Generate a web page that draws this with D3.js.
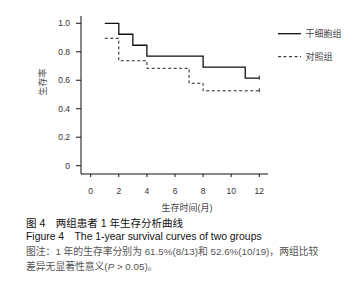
<!DOCTYPE html>
<html>
<head>
<meta charset="utf-8">
<script src="https://cdn.jsdelivr.net/npm/d3@7"></script>
<style>
  body { margin: 0; background: #fff; }
  text { font-family: "Liberation Sans", Arial, "Noto Sans CJK SC", sans-serif; }
</style>
</head>
<body>
<svg id="chart" width="360" height="296"></svg>
<script>
// survival data
const stemTimes = [1, 2, 3, 4, 8, 11, 12]
const stemSurv = [1.0, 0.923, 0.846, 0.769, 0.692, 0.615, 0.615]
const ctrlTimes = [1, 2, 4, 7, 8, 12]
const ctrlSurv = [0.895, 0.737, 0.684, 0.579, 0.526, 0.526]
const xTicks = [0, 2, 4, 6, 8, 10, 12]
const yTicks = [0, 0.2, 0.4, 0.6, 0.8, 1.0]
const seriesNames = ['干细胞组', '对照组']

const svg = d3.select('#chart')

const x = d3.scaleLinear().domain([0, 12]).range([90.7, 259.3])
const y = d3.scaleLinear().domain([0, 1]).range([165.7, 23.3])

// axes drawn as plain lines, like the original R plot
const g = svg.append('g').attr('stroke', '#111').attr('stroke-width', 1)
g.append('line').attr('x1', 81).attr('x2', 81).attr('y1', 16).attr('y2', 174)
g.append('line').attr('x1', 81).attr('x2', 268).attr('y1', 174).attr('y2', 174)

g.selectAll('.yt').data(yTicks).enter().append('line')
  .attr('x1', 76).attr('x2', 81)
  .attr('y1', d => y(d)).attr('y2', d => y(d))
g.selectAll('.xt').data(xTicks).enter().append('line')
  .attr('x1', d => x(d)).attr('x2', d => x(d))
  .attr('y1', 174).attr('y2', 177)

svg.selectAll('.yl').data(yTicks).enter().append('text')
  .attr('x', 70).attr('y', d => y(d) + 3)
  .attr('text-anchor', 'end').attr('font-size', 8.5).attr('fill', '#333')
  .text(d => d === 0 ? '0' : d.toFixed(1))
svg.selectAll('.xl').data(xTicks).enter().append('text')
  .attr('x', d => x(d)).attr('y', 194)
  .attr('text-anchor', 'middle').attr('font-size', 8.5).attr('fill', '#333')
  .text(d => d)

svg.append('text')
  .attr('transform', 'translate(46,82) rotate(-90)')
  .attr('text-anchor', 'middle').attr('font-size', 9).attr('fill', '#444')
  .text('生存率')
svg.append('text')
  .attr('x', 187).attr('y', 210.5)
  .attr('text-anchor', 'middle').attr('font-size', 9).attr('fill', '#444')
  .text('生存时间(月)')

const step = d3.line().curve(d3.curveStepAfter)
  .x(d => x(d[0])).y(d => y(d[1]))

svg.append('path')
  .datum(d3.zip(stemTimes, stemSurv))
  .attr('d', step).attr('fill', 'none')
  .attr('stroke', '#111').attr('stroke-width', 1.3)
svg.append('path')
  .datum(d3.zip(ctrlTimes, ctrlSurv))
  .attr('d', step).attr('fill', 'none')
  .attr('stroke', '#222').attr('stroke-width', 1).attr('stroke-dasharray', '3,2.5')

// censor marks at the end of follow-up
svg.selectAll('.cm').data([stemSurv[stemSurv.length - 1], ctrlSurv[ctrlSurv.length - 1]])
  .enter().append('line')
  .attr('x1', x(12)).attr('x2', x(12))
  .attr('y1', d => y(d) - 2.5).attr('y2', d => y(d) + 1.5)
  .attr('stroke', '#222').attr('stroke-width', 1)

// legend
const leg = svg.append('g')
seriesNames.forEach((name, i) => {
  const ly = 33.7 + i * 23
  leg.append('line').attr('x1', 278).attr('x2', 301).attr('y1', ly).attr('y2', ly)
    .attr('stroke', '#111').attr('stroke-width', i === 0 ? 1.3 : 1)
    .attr('stroke-dasharray', i === 0 ? null : '3,2.5')
  leg.append('text').attr('x', 305.5).attr('y', ly + 3.3)
    .attr('font-size', 9).attr('fill', '#444').text(name)
})

// caption
const cap = svg.append('g')
cap.append('text').attr('x', 26).attr('y', 226.5).attr('font-size', 10.5).attr('fill', '#111')
  .text('图 4　两组患者 1 年生存分析曲线')
cap.append('text').attr('x', 26).attr('y', 240).attr('font-size', 10.4).attr('fill', '#111')
  .text('Figure 4　The 1-year survival curves of two groups')
cap.append('text').attr('x', 26).attr('y', 255).attr('font-size', 9.8).attr('fill', '#555')
  .text('图注：1 年的生存率分别为 61.5%(8/13)和 52.6%(10/19)，两组比较')
const last = cap.append('text').attr('x', 26).attr('y', 270).attr('font-size', 9.8).attr('fill', '#555')
last.append('tspan').text('差异无显著性意义(')
last.append('tspan').attr('font-style', 'italic').text('P')
last.append('tspan').text(' > 0.05)。')
</script>
</body>
</html>
